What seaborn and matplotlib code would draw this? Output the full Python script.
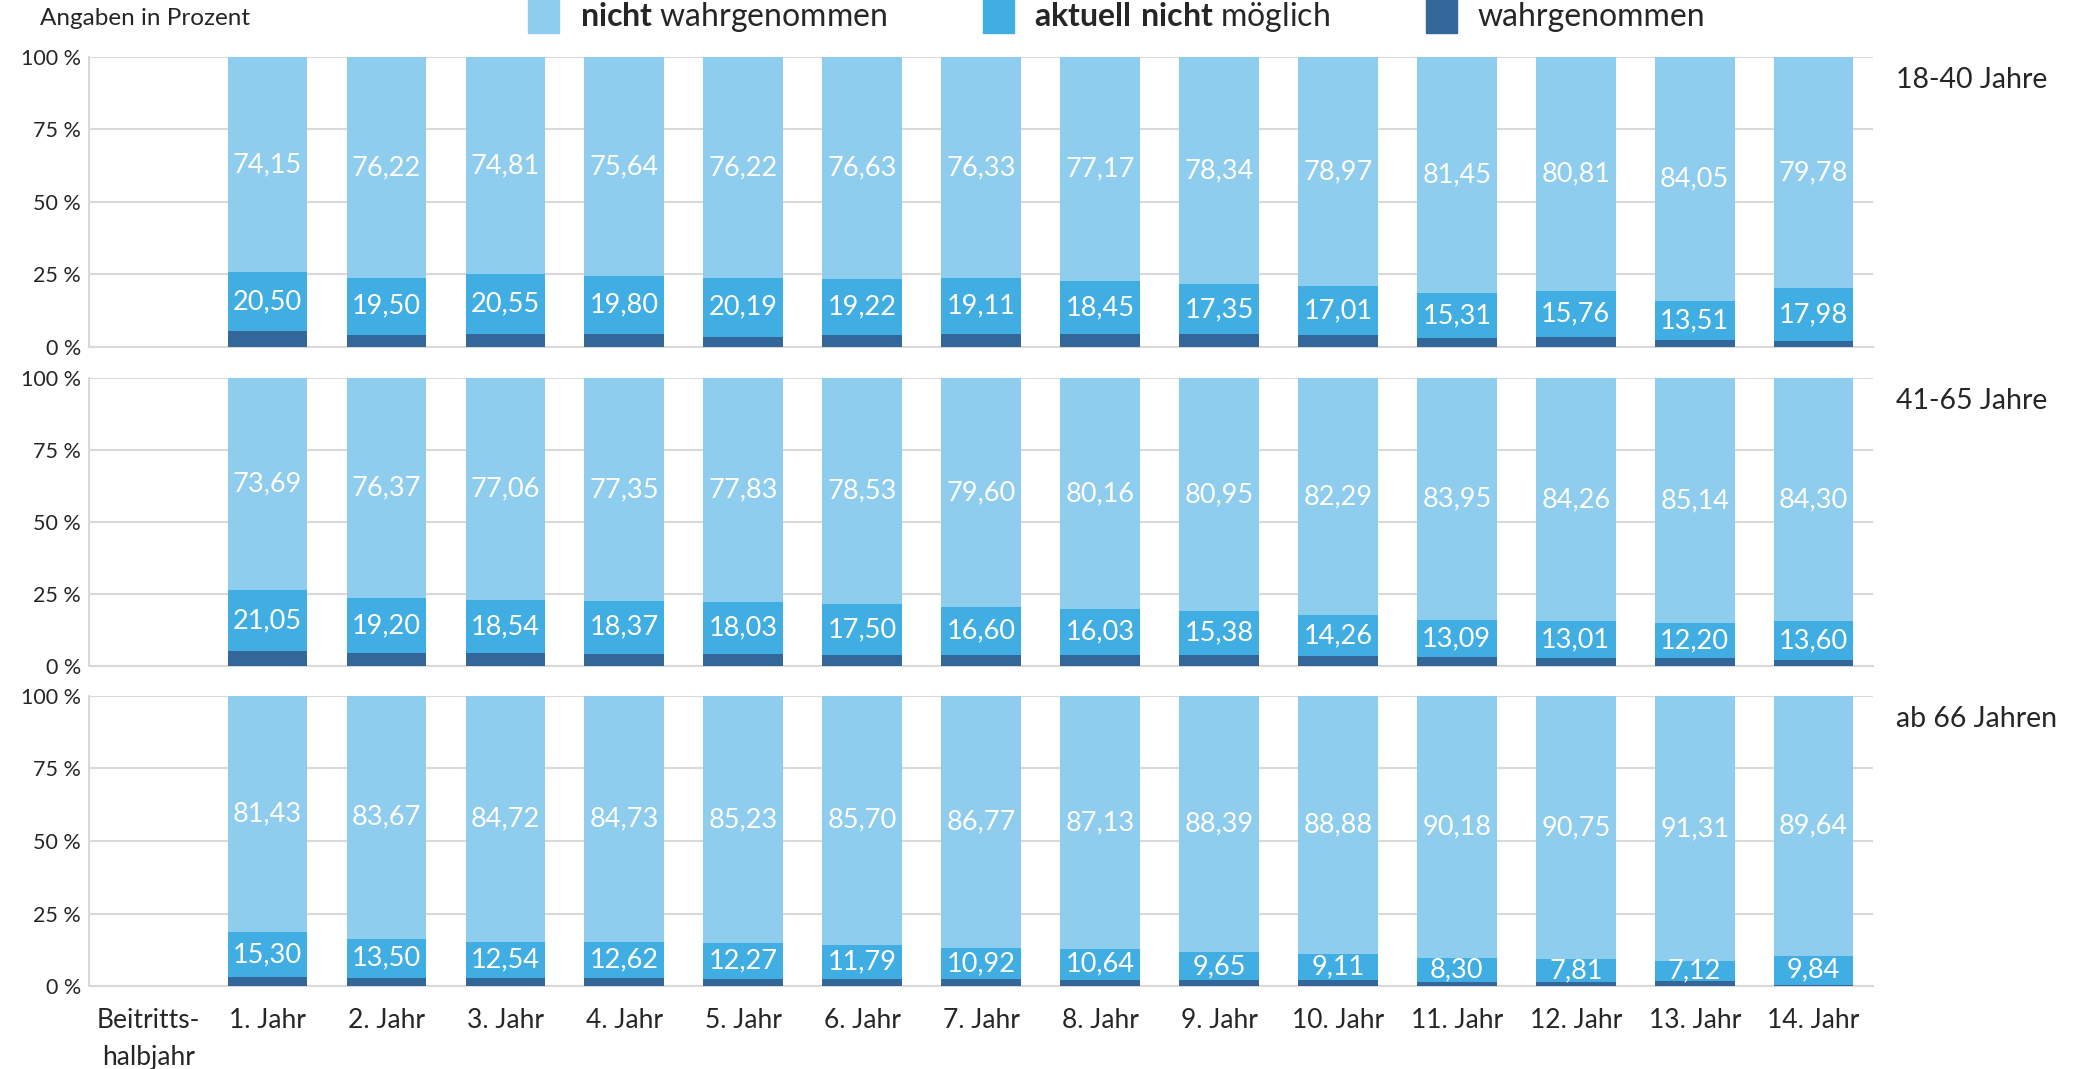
import numpy as np
import pandas as pd
import matplotlib
matplotlib.use('Agg')
import matplotlib.pyplot as plt
from matplotlib.patches import Patch
import seaborn as sns

# Kategorien (x-Achse)
categories = ['Beitritts-\nhalbjahr', '1. Jahr', '2. Jahr', '3. Jahr', '4. Jahr', '5. Jahr',
              '6. Jahr', '7. Jahr', '8. Jahr', '9. Jahr', '10. Jahr', '11. Jahr',
              '12. Jahr', '13. Jahr', '14. Jahr']
years = categories[1:]
groups = ['18-40 Jahre', '41-65 Jahre', 'ab 66 Jahren']

# 18-40 Jahre
nicht_18 = [74.15, 76.22, 74.81, 75.64, 76.22, 76.63, 76.33, 77.17, 78.34, 78.97, 81.45, 80.81, 84.05, 79.78]
aktuell_18 = [20.50, 19.50, 20.55, 19.80, 20.19, 19.22, 19.11, 18.45, 17.35, 17.01, 15.31, 15.76, 13.51, 17.98]
wahr_18 = [5.35, 4.28, 4.64, 4.56, 3.59, 4.15, 4.56, 4.38, 4.31, 4.02, 3.24, 3.43, 2.44, 2.24]

# 41-65 Jahre
nicht_41 = [73.69, 76.37, 77.06, 77.35, 77.83, 78.53, 79.60, 80.16, 80.95, 82.29, 83.95, 84.26, 85.14, 84.30]
aktuell_41 = [21.05, 19.20, 18.54, 18.37, 18.03, 17.50, 16.60, 16.03, 15.38, 14.26, 13.09, 13.01, 12.20, 13.60]
wahr_41 = [5.26, 4.43, 4.40, 4.28, 4.14, 3.97, 3.80, 3.81, 3.67, 3.45, 2.96, 2.73, 2.66, 2.10]

# ab 66 Jahren
nicht_66 = [81.43, 83.67, 84.72, 84.73, 85.23, 85.70, 86.77, 87.13, 88.39, 88.88, 90.18, 90.75, 91.31, 89.64]
aktuell_66 = [15.30, 13.50, 12.54, 12.62, 12.27, 11.79, 10.92, 10.64, 9.65, 9.11, 8.30, 7.81, 7.12, 9.84]
wahr_66 = [3.27, 2.83, 2.74, 2.65, 2.50, 2.51, 2.31, 2.23, 1.96, 2.01, 1.52, 1.44, 1.57, 0.52]

data = [(nicht_18, aktuell_18, wahr_18), (nicht_41, aktuell_41, wahr_41), (nicht_66, aktuell_66, wahr_66)]

c_light = '#8ecdee'
c_mid = '#41aee3'
c_dark = '#336699'
grid_c = '#d9d9d9'

sns.set_theme(style='white')
plt.rcParams['font.family'] = ['Lato', 'DejaVu Sans']
plt.rcParams['mathtext.fontset'] = 'custom'
plt.rcParams['mathtext.rm'] = 'Lato'
plt.rcParams['mathtext.bf'] = 'Lato:bold'

fig = plt.figure(figsize=(20.87, 10.69), dpi=100)
left, right = 0.0427, 0.8975
boxes = [(0.6754, 0.9467), (0.3770, 0.6464), (0.0776, 0.3490)]

for i, ((nicht, aktuell, wahr), (b, t)) in enumerate(zip(data, boxes)):
    ax = fig.add_axes([left, b, right - left, t - b])
    df = pd.DataFrame({'Jahr': years, 'nicht': nicht, 'aktuell': aktuell, 'wahr': wahr})
    df['top'] = df['nicht'] + df['aktuell'] + df['wahr']
    df['mid'] = df['aktuell'] + df['wahr']
    for col, c in [('top', c_light), ('mid', c_mid), ('wahr', c_dark)]:
        sns.barplot(data=df, x='Jahr', y=col, order=categories, color=c,
                    width=0.67, saturation=1, linewidth=0, ax=ax, zorder=3)

    for j, row in df.iterrows():
        xpos = categories.index(row['Jahr'])
        yl = row['mid'] + row['nicht'] / 2
        ym = row['wahr'] + row['aktuell'] / 2
        ax.text(xpos, yl, f"{row['nicht']:.2f}".replace('.', ','), ha='center', va='center',
                color='white', fontsize=19.5, zorder=4)
        ax.text(xpos, ym, f"{row['aktuell']:.2f}".replace('.', ','), ha='center', va='center',
                color='white', fontsize=19.5, zorder=4)

    ax.set_xlim(-0.5, len(categories) - 0.5)
    ax.set_ylim(0, 100)
    ax.set_yticks([0, 25, 50, 75, 100])
    ax.set_yticklabels(['0 %', '25 %', '50 %', '75 %', '100 %'], fontsize=15.5)
    ax.yaxis.grid(True, color=grid_c, linewidth=1.5, zorder=0)
    ax.set_axisbelow(True)
    ax.set_xlabel('')
    ax.set_ylabel('')
    ax.tick_params(axis='both', length=0, pad=6)
    for s in ['top', 'right']:
        ax.spines[s].set_visible(False)
    for s in ['left', 'bottom']:
        ax.spines[s].set_color(grid_c)
        ax.spines[s].set_linewidth(1.5)
    if i < 2:
        ax.set_xticklabels([])
    else:
        ax.set_xticklabels(categories, fontsize=19, linespacing=1.6)
        ax.tick_params(axis='x', pad=16)
    ax.text(1.013, 0.92, groups[i], transform=ax.transAxes, ha='left', va='center', fontsize=20.5)

fig.text(0.019, 0.983, 'Angaben in Prozent', ha='left', va='center', fontsize=17.5)

handles = [Patch(color=c_light), Patch(color=c_mid), Patch(color=c_dark)]
labels = [r'$\bf{nicht}$ wahrgenommen', r'$\bf{aktuell\ nicht}$ möglich', 'wahrgenommen']
fig.legend(handles, labels, loc='center', bbox_to_anchor=(0.535, 0.985), ncol=3, frameon=False,
           fontsize=23, handlelength=0.97, handleheight=1.3, columnspacing=3.0, handletextpad=0.65,
           borderpad=0, borderaxespad=0)

fig.savefig('out.png', dpi=100)
